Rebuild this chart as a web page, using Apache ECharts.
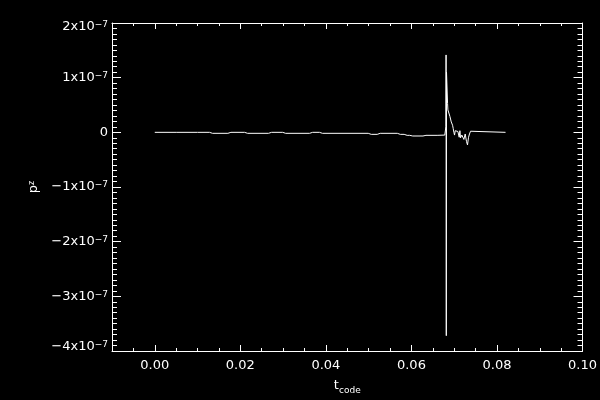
<!DOCTYPE html>
<html>
<head>
<meta charset="utf-8">
<script src="https://cdn.jsdelivr.net/npm/echarts@6/dist/echarts.min.js"></script>
<style>html,body{margin:0;padding:0;background:#000;}#c{width:600px;height:400px;}</style>
</head>
<body>
<div id="c"></div>
<script>
// time values (t_code)
const tCode = [0, 0.005, 0.010, 0.0128, 0.0135, 0.0171, 0.0178, 0.021, 0.0217, 0.0266, 0.0273, 0.0299, 0.0306, 0.0362, 0.0369, 0.0385, 0.0392, 0.0499, 0.0506, 0.052, 0.0527, 0.0567, 0.0574, 0.0583, 0.0590, 0.0596, 0.0603, 0.0627, 0.0634, 0.0660, 0.0678, 0.06807, 0.0681, 0.06815, 0.0682, 0.06838, 0.06845, 0.06853, 0.0690, 0.06931, 0.06962, 0.06977, 0.06993, 0.07008, 0.07024, 0.07055, 0.07086, 0.07102, 0.07117, 0.07133, 0.07148, 0.07179, 0.0721, 0.07226, 0.07257, 0.07288, 0.07311, 0.07335, 0.07358, 0.07382, 0.0742, 0.082];
// p^z values
const pZ = [0, 0, 0, 0, -1.8e-9, -1.8e-9, 0, 0, -1.8e-9, -1.8e-9, 0, 0, -1.8e-9, -1.8e-9, 0, 0, -1.8e-9, -1.8e-9, -3.7e-9, -3.7e-9, -1.8e-9, -1.8e-9, -3.7e-9, -3.7e-9, -5.5e-9, -5.5e-9, -6.7e-9, -6.7e-9, -5.5e-9, -5.5e-9, -5e-9, 1.1e-8, 1.416e-7, -3.72e-7, 1.1e-7, 1.1e-7, 5.3e-8, 4.1e-8, 2.9e-8, 1.9e-8, 1.3e-8, 7e-9, 0, -5e-9, 3e-9, 4e-9, 1.5e-9, -1e-9, -9e-9, 3e-9, -1e-8, -5e-9, -7e-9, -1.3e-8, -3e-9, -1.7e-8, -2.3e-8, -9e-9, -3e-9, 2e-9, 0, 0];
// tick labels
const xMajorTicks = [0, 0.02, 0.04, 0.06, 0.08, 0.10];
const xLabels = ['0.00', '0.02', '0.04', '0.06', '0.08', '0.10'];
const yLabelsMantissa = [-4, -3, -2, -1, 0, 1, 2];

const FONT = 'DejaVu Sans';
const rich = {
  m: {fontSize: 13, fontFamily: FONT, color: '#fff', lineHeight: 13},
  s: {fontSize: 9, fontFamily: FONT, color: '#fff', verticalAlign: 'top', lineHeight: 9},
  g: {fontSize: 1, lineHeight: 8, color: 'rgba(0,0,0,0)'}
};

const chart = echarts.init(document.getElementById('c'), null, {renderer: 'canvas'});
const white = {color: '#fff', width: 1};
const xMin = -0.01, xMax = 0.10, yMin = -4e-7, yMax = 2e-7;

function xAxisPair(pos, labels) {
  return [
    {
      type: 'value', position: pos, min: xMin, max: xMax, interval: 0.005,
      axisLine: {show: true, onZero: false, lineStyle: white},
      axisTick: {show: true, inside: true, length: 6, lineStyle: white, customValues: xMajorTicks},
      axisLabel: labels ? {
        show: true, color: '#fff', fontFamily: FONT, fontSize: 13, margin: 8,
        customValues: xMajorTicks,
        formatter: v => xLabels[xMajorTicks.findIndex(t => Math.abs(t - v) < 1e-9)] || ''
      } : {show: false},
      splitLine: {show: false}
    },
    {
      type: 'value', position: pos, min: xMin, max: xMax, interval: 0.005,
      axisLine: {show: false, onZero: false},
      axisTick: {show: true, inside: true, length: 3, lineStyle: white},
      axisLabel: {show: false},
      splitLine: {show: false}
    }
  ];
}

function yAxisDef(pos, labels) {
  return {
    type: 'value', position: pos, min: yMin, max: yMax, interval: 1e-7,
    axisLine: {show: true, onZero: false, lineStyle: white},
    axisTick: {show: true, inside: true, length: 9, lineStyle: white},
    minorTick: {show: true, splitNumber: 10, length: 5, lineStyle: white},
    splitLine: {show: false},
    minorSplitLine: {show: false},
    axisLabel: labels ? {
      show: true, margin: 4, rich: rich,
      formatter: v => {
        const n = Math.round(v / 1e-7);
        if (yLabelsMantissa.indexOf(n) < 0) return '';
        let line;
        if (n === 0) line = '{m|0}';
        else line = '{m|' + (n < 0 ? '\u2212' : '') + Math.abs(n) + 'x10}{s|\u22127}';
        if (n === 2) return '{g| }\n' + line;
        if (n === -4) return line + '\n{g| }';
        return line;
      }
    } : {show: false},
    name: labels ? '{a|p}{b|z}' : '',
    nameLocation: 'middle', nameGap: 68, nameRotate: 90,
    nameTextStyle: {
      rich: {
        a: {fontSize: 13, fontFamily: FONT, color: '#fff', lineHeight: 13},
        b: {fontSize: 8, fontFamily: FONT, color: '#fff', verticalAlign: 'top', lineHeight: 8}
      }
    }
  };
}

const xa = xAxisPair('bottom', true).concat(xAxisPair('top', false));
xa[0].name = '{a|t}{b|code}';
xa[0].nameLocation = 'middle';
xa[0].nameGap = 28;
xa[0].nameTextStyle = {
  rich: {
    a: {fontSize: 13, fontFamily: FONT, color: '#fff', lineHeight: 13},
    b: {fontSize: 9, fontFamily: FONT, color: '#fff', verticalAlign: 'bottom', lineHeight: 9, padding: [0, 0, -3, 0]}
  }
};

chart.setOption({
  backgroundColor: '#000',
  animation: false,
  grid: {left: 112, right: 16, top: 23, bottom: 49, containLabel: false},
  xAxis: xa,
  yAxis: [yAxisDef('left', true), yAxisDef('right', false)],
  series: [{
    type: 'line', xAxisIndex: 0, yAxisIndex: 0,
    showSymbol: false, symbol: 'none',
    lineStyle: {color: '#fff', width: 1},
    data: tCode.map((t, i) => [t, pZ[i]])
  }]
});
</script>
</body>
</html>
